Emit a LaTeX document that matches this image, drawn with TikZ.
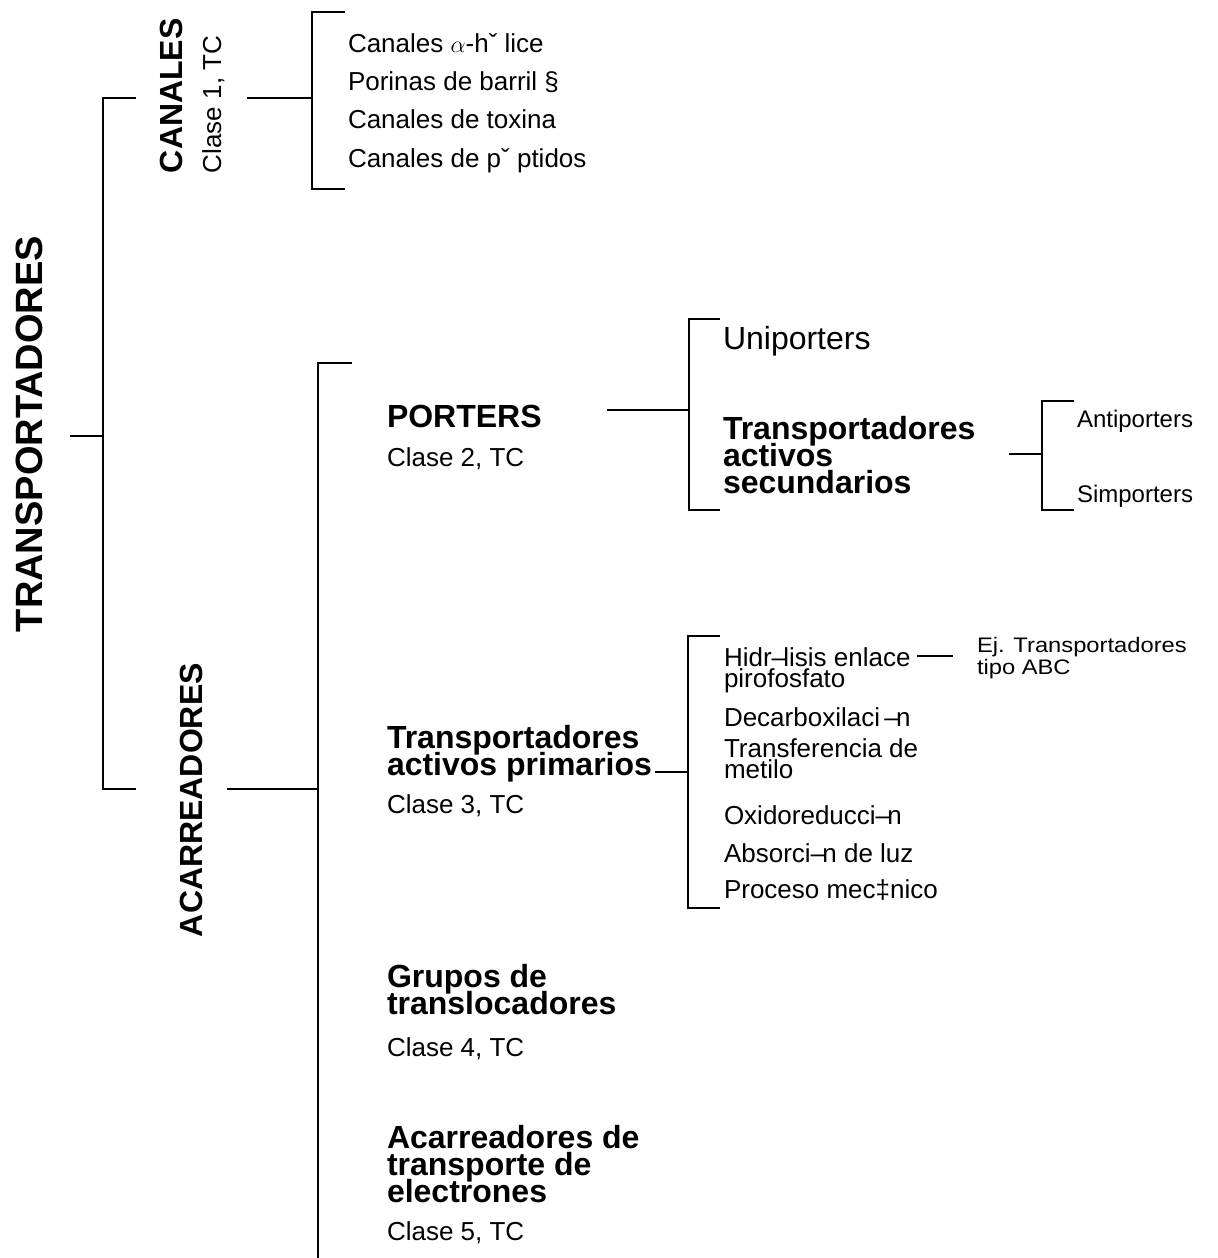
\documentclass[tikz,border=0pt]{standalone}
\usepackage{fontspec}
\setmainfont{Liberation Sans}
\newfontfamily\anchafont[FakeStretch=1.13]{Liberation Sans}
\newcommand{\rayita}{\makebox[0.45em][l]{–}}
\newcommand{\apretado}{\lineskiplimit=-100pt\lineskip=0pt}

\begin{document}
\begin{tikzpicture}[x=0.5pt, y=-0.5pt, line width=0.9pt,
    every node/.style={inner sep=0pt, outer sep=0pt},
    vertical/.style={anchor=base west, rotate=90},
    grupo/.style={anchor=base west, align=left, font=\bfseries\fontsize{16}{13.5}\selectfont\apretado},
    clase/.style={anchor=base west, font=\fontsize{13}{15}\selectfont},
    subitem/.style={anchor=base west, align=left, font=\fontsize{13}{10.5}\selectfont\apretado}]
\useasboundingbox (0,0) rectangle (1217,1258);

% Vertical titles
\node[vertical, anchor=base, font=\bfseries\fontsize{19}{22}\selectfont] (raiz) at (42,434) {TRANSPORTADORES};
\node[vertical, font=\bfseries\fontsize{16}{18}\selectfont] (canales) at (182,173) {CANALES};
\node[vertical, font=\fontsize{13}{15}\selectfont] (clase1) at (221,173) {Clase 1, TC};
\node[vertical, font=\bfseries\fontsize{16}{18}\selectfont] (acarreadores) at (202,937) {ACARREADORES};

% Channel types
\foreach \txt [count=\i] in {Canales $\alpha$-hˇ lice, Porinas de barril §, Canales de toxina, Canales de pˇ ptidos}
    \node[clase] (canal\i) at (348,{52+38.4*(\i-1)}) {\txt};

% Carrier classes (base = last line)
\node[grupo] (porters) at (387,427) {PORTERS};
\node[clase] (clase2) at (387,466) {Clase 2, TC};
\node[grupo] (primarios) at (387,775) {Transportadores\\activos primarios};
\node[clase] (clase3) at (387,813) {Clase 3, TC};
\node[grupo] (grupos) at (387,1014) {Grupos de\\translocadores};
\node[clase] (clase4) at (387,1056) {Clase 4, TC};
\node[grupo] (electrones) at (387,1202) {Acarreadores de\\transporte de\\electrones};
\node[clase] (clase5) at (387,1240) {Clase 5, TC};

% Porters
\node[anchor=base west, font=\fontsize{16}{18}\selectfont] (uni) at (723,349) {Uniporters};
\node[grupo] (secundarios) at (723,493) {Transportadores\\activos\\secundarios};
\node[anchor=base west, font=\fontsize{12}{14}\selectfont] (anti) at (1077,427) {Antiporters};
\node[anchor=base west, font=\fontsize{12}{14}\selectfont] (simp) at (1077,502) {Simporters};

% Energy sources of primary transport
\node[subitem] (hidr) at (724,687) {Hidr\rayita lisis enlace\\pirofosfato};
\node[subitem] (decarb) at (724,726) {Decarboxilaci\,\rayita n};
\node[subitem] (metilo) at (724,778) {Transferencia de\\metilo};
\node[subitem] (oxido) at (724,824) {Oxidoreducci\rayita n};
\node[subitem] (luz) at (724,862) {Absorci\rayita n de luz};
\node[subitem] (mecanico) at (724,898) {Proceso mec‡nico};
\node[anchor=base west, align=left, font=\anchafont\fontsize{10.5}{11}\selectfont\apretado] (abc) at (977,674) {Ej. Transportadores\\tipo ABC};

% Bracket ends
\coordinate (raiz-e) at (70,436);
\coordinate (ll0-t) at (136,98);   \coordinate (ll0-c) at (103,789);  \coordinate (ll0-b) at (136,789);
\coordinate (canales-e) at (247,98);
\coordinate (ll1-t) at (345,12);   \coordinate (ll1-c) at (312,189);  \coordinate (ll1-b) at (345,189);
\coordinate (acarreadores-e) at (227,789);
\coordinate (ll2-t) at (352,363);  \coordinate (ll2-c) at (318,1258);
\coordinate (porters-e) at (607,410);
\coordinate (ll3-t) at (720,319);  \coordinate (ll3-c) at (689,510);  \coordinate (ll3-b) at (720,510);
\coordinate (secundarios-e) at (1009,454);
\coordinate (ll4-t) at (1074,401); \coordinate (ll4-c) at (1042,510); \coordinate (ll4-b) at (1074,510);
\coordinate (primarios-e) at (655,772);
\coordinate (ll5-t) at (720,636);  \coordinate (ll5-c) at (688,908);  \coordinate (ll5-b) at (720,908);
\coordinate (hidr-e) at (917,656); \coordinate (abc-w) at (953,656);

% Brackets
\draw (raiz-e) -- (raiz-e -| ll0-c);
\draw (ll0-t) -| (ll0-c) -- (ll0-b);
\draw (canales-e) -- (canales-e -| ll1-c);
\draw (ll1-t) -| (ll1-c) -- (ll1-b);
\draw (acarreadores-e) -- (acarreadores-e -| ll2-c);
\draw (ll2-t) -| (ll2-c);
\draw (porters-e) -- (porters-e -| ll3-c);
\draw (ll3-t) -| (ll3-c) -- (ll3-b);
\draw (secundarios-e) -- (secundarios-e -| ll4-c);
\draw (ll4-t) -| (ll4-c) -- (ll4-b);
\draw (primarios-e) -- (primarios-e -| ll5-c);
\draw (ll5-t) -| (ll5-c) -- (ll5-b);
\draw (hidr-e) -- (abc-w);
\end{tikzpicture}
\end{document}
